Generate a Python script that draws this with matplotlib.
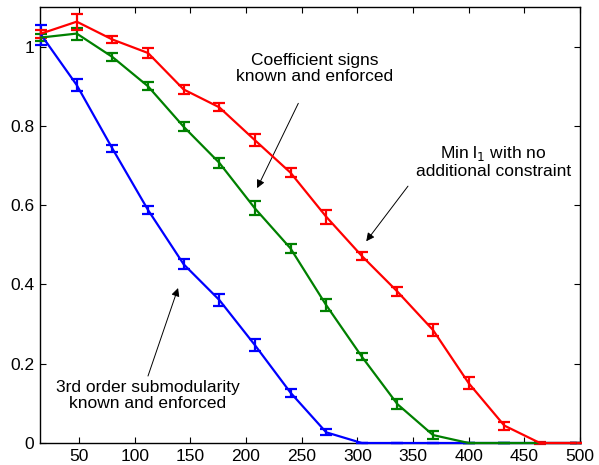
import matplotlib
matplotlib.use("Agg")
import matplotlib.pyplot as plt
import numpy as np

plt.rcParams['font.family'] = ['Liberation Sans', 'DejaVu Sans']

x = [16, 48, 80, 112, 144, 176, 208, 240, 272, 304, 336, 368, 400, 432, 464, 496]
red = [1.033, 1.063, 1.018, 0.984, 0.892, 0.847, 0.764, 0.682, 0.571, 0.472, 0.382, 0.285, 0.151, 0.044, 0.0, 0.0]
red_err = [0.010, 0.020, 0.008, 0.012, 0.012, 0.010, 0.015, 0.012, 0.018, 0.010, 0.012, 0.015, 0.015, 0.010, 0.003, 0.0]
green = [1.023, 1.033, 0.974, 0.900, 0.798, 0.707, 0.592, 0.491, 0.348, 0.218, 0.098, 0.020, 0.0, 0.0, 0.0, 0.0]
green_err = [0.010, 0.015, 0.010, 0.010, 0.012, 0.012, 0.018, 0.012, 0.015, 0.008, 0.012, 0.010, 0.0, 0.0, 0.0, 0.0]
blue = [1.030, 0.903, 0.743, 0.588, 0.451, 0.361, 0.247, 0.127, 0.027, 0.0, 0.0, 0.0, 0.0, 0.0, 0.0, 0.0]
blue_err = [0.025, 0.015, 0.010, 0.010, 0.012, 0.015, 0.015, 0.010, 0.008, 0.0, 0.0, 0.0, 0.0, 0.0, 0.0, 0.0]

xticks = [50, 100, 150, 200, 250, 300, 350, 400, 450, 500]
yticks = [0, 0.2, 0.4, 0.6, 0.8, 1.0]
ytick_labels = ['0', '0.2', '0.4', '0.6', '0.8', '1']

fig = plt.figure(figsize=(5.99, 4.65), dpi=100)
ax = fig.add_axes([40/599, 1 - 443/465, 540/599, 436/465])

for y, e, c in [(blue, blue_err, (0, 0, 1)), (green, green_err, (0, 0.5, 0)), (red, red_err, (1, 0, 0))]:
    ax.errorbar(x, y, yerr=e, color=c, lw=1.6, elinewidth=1.6, capsize=4.5, capthick=1.6, clip_on=False, zorder=3)

ax.set_xlim(15, 500)
ax.set_ylim(0, 1.1)
ax.set_xticks(xticks)
ax.set_yticks(yticks)
ax.set_yticklabels(ytick_labels)
ax.tick_params(direction='in', top=True, right=True, labelsize=12.5, length=4, width=0.8, pad=4)
for s in ax.spines.values():
    s.set_linewidth(1.0)

fs = 12.5
arrowprops = dict(arrowstyle='-|>', color='black', lw=0.7, mutation_scale=12, shrinkA=0, shrinkB=0)

ax.text(262, 0.945, 'Coefficient signs\nknown and enforced', ha='center', va='center', fontsize=fs, linespacing=1.1)
ax.annotate('', xy=(210, 0.643), xytext=(247, 0.857), arrowprops=arrowprops)

ax.text(422, 0.71, 'Min l$_1$ with no\nadditional constraint', ha='center', va='center', fontsize=fs, linespacing=1.15)
ax.annotate('', xy=(308, 0.509), xytext=(345.5, 0.648), arrowprops=arrowprops)

ax.text(112, 0.12, '3rd order submodularity\nknown and enforced', ha='center', va='center', fontsize=fs, linespacing=1.1)
ax.annotate('', xy=(139, 0.391), xytext=(112, 0.169), arrowprops=arrowprops)

fig.savefig('out.png', dpi=100)
